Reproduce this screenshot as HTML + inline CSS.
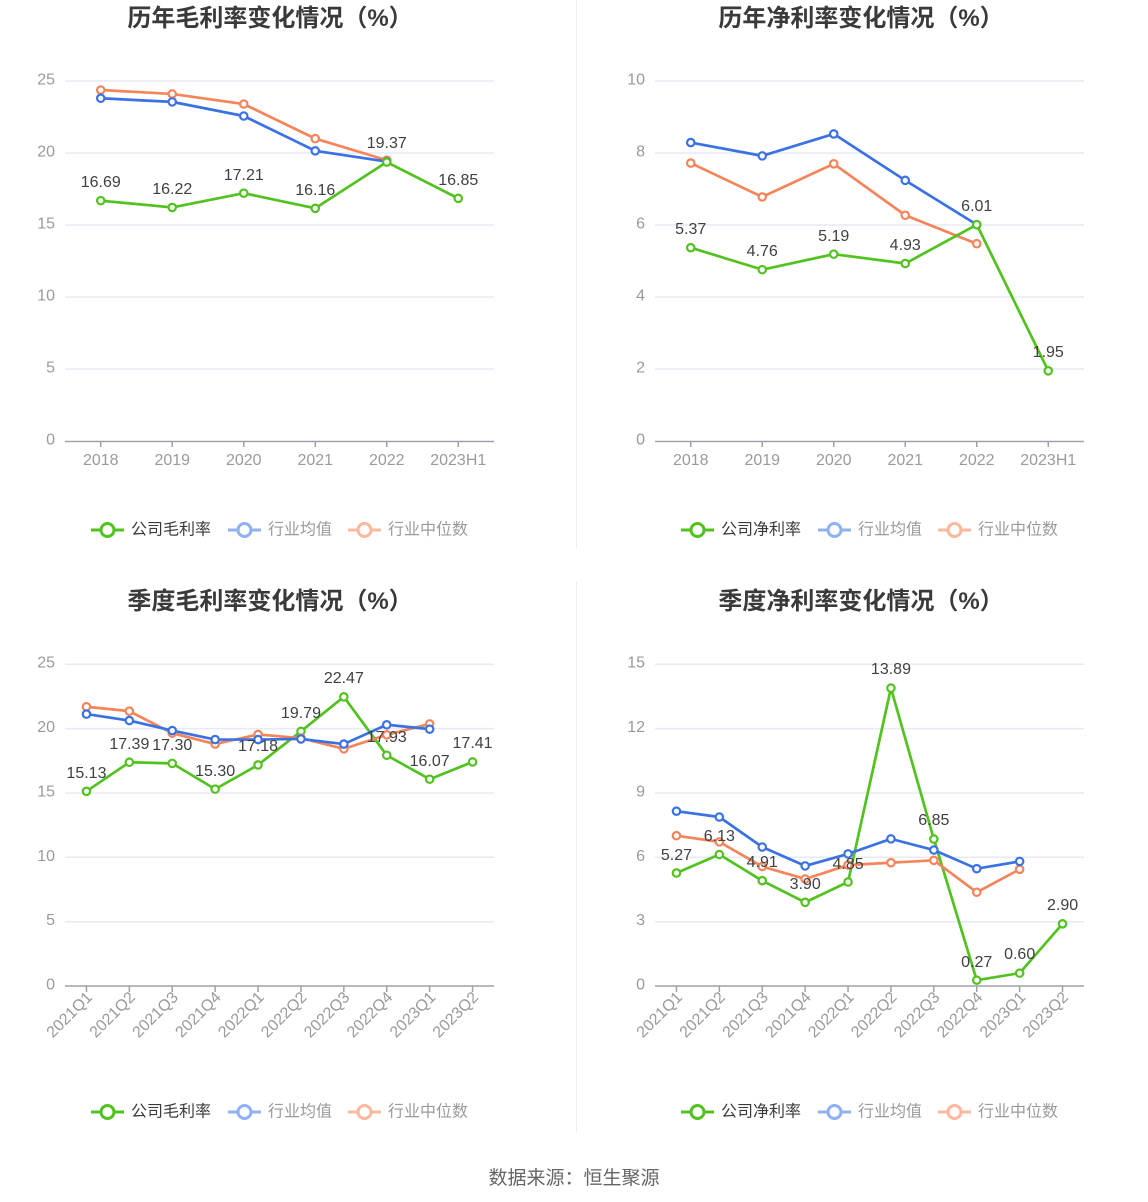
<!DOCTYPE html>
<html><head><meta charset="utf-8">
<style>
html,body{margin:0;padding:0;background:#fff;}
svg{display:block;font-family:"Liberation Sans","Noto Sans CJK SC",sans-serif;}
.t{font-size:24px;font-weight:bold;fill:#3a3a3a;text-anchor:middle;}
.yl{font-size:16px;fill:#9a9a9a;text-anchor:end;dominant-baseline:central;}
.xl{font-size:16px;fill:#9a9a9a;text-anchor:middle;}
.xr{font-size:16px;fill:#9a9a9a;text-anchor:end;dominant-baseline:central;}
.dl{font-size:16px;fill:#404040;text-anchor:middle;}
.grid{stroke:#e6eaf4;stroke-width:1.5;}
.axis{stroke:#9ea2aa;stroke-width:1.5;fill:none;}
.g{stroke:#52c21f;stroke-width:2.7;fill:none;stroke-linejoin:round;}
.b{stroke:#3a72e4;stroke-width:2.7;fill:none;stroke-linejoin:round;}
.o{stroke:#f6845a;stroke-width:2.7;fill:none;stroke-linejoin:round;}
.gm{stroke:#52c21f;stroke-width:2.2;fill:#fff;}
.bm{stroke:#3a72e4;stroke-width:2.2;fill:#fff;}
.om{stroke:#f6845a;stroke-width:2.2;fill:#fff;}
.lt{font-size:16px;dominant-baseline:central;}
</style></head>
<body>
<svg width="1148" height="1202" viewBox="0 0 1148 1202" xmlns="http://www.w3.org/2000/svg">
<!-- dividers -->
<line x1="576.5" y1="0" x2="576.5" y2="549" stroke="#eeeeee" stroke-width="1"/>
<line x1="576.5" y1="582" x2="576.5" y2="1133" stroke="#eeeeee" stroke-width="1"/>

<!-- ================= TOP LEFT ================= -->
<text class="t" x="270" y="26">历年毛利率变化情况（%）</text>
<g>
<line class="grid" x1="65" y1="81" x2="494" y2="81"/>
<line class="grid" x1="65" y1="153" x2="494" y2="153"/>
<line class="grid" x1="65" y1="225" x2="494" y2="225"/>
<line class="grid" x1="65" y1="297" x2="494" y2="297"/>
<line class="grid" x1="65" y1="369" x2="494" y2="369"/>
<line class="axis" x1="65" y1="441.5" x2="494" y2="441.5"/>
<text class="yl" x="55" y="80">25</text>
<text class="yl" x="55" y="152">20</text>
<text class="yl" x="55" y="224">15</text>
<text class="yl" x="55" y="296">10</text>
<text class="yl" x="55" y="368">5</text>
<text class="yl" x="55" y="440">0</text>
<g stroke="#9ea2aa" stroke-width="1.5">
<line x1="100.75" y1="441.5" x2="100.75" y2="447"/><line x1="172.25" y1="441.5" x2="172.25" y2="447"/>
<line x1="243.75" y1="441.5" x2="243.75" y2="447"/><line x1="315.25" y1="441.5" x2="315.25" y2="447"/>
<line x1="386.75" y1="441.5" x2="386.75" y2="447"/><line x1="458.25" y1="441.5" x2="458.25" y2="447"/>
</g>
<text class="xl" x="100.75" y="465">2018</text>
<text class="xl" x="172.25" y="465">2019</text>
<text class="xl" x="243.75" y="465">2020</text>
<text class="xl" x="315.25" y="465">2021</text>
<text class="xl" x="386.75" y="465">2022</text>
<text class="xl" x="458.25" y="465">2023H1</text>

<polyline class="o" points="100.75,90 172.25,93.96 243.75,104.04 315.25,138.6 386.75,160.2"/>
<polyline class="b" points="100.75,98.28 172.25,101.88 243.75,116 315.25,150.84 386.75,161.64"/>
<polyline class="g" points="100.75,200.66 172.25,207.43 243.75,193.18 315.25,208.3 386.75,162.07 458.25,198.36"/>
<g class="om"><circle cx="100.75" cy="90" r="3.7"/><circle cx="172.25" cy="93.96" r="3.7"/><circle cx="243.75" cy="104.04" r="3.7"/><circle cx="315.25" cy="138.6" r="3.7"/><circle cx="386.75" cy="160.2" r="3.7"/></g>
<g class="bm"><circle cx="100.75" cy="98.28" r="3.7"/><circle cx="172.25" cy="101.88" r="3.7"/><circle cx="243.75" cy="116" r="3.7"/><circle cx="315.25" cy="150.84" r="3.7"/><circle cx="386.75" cy="161.64" r="3.7"/></g>
<g class="gm"><circle cx="100.75" cy="200.66" r="3.7"/><circle cx="172.25" cy="207.43" r="3.7"/><circle cx="243.75" cy="193.18" r="3.7"/><circle cx="315.25" cy="208.3" r="3.7"/><circle cx="386.75" cy="162.07" r="3.7"/><circle cx="458.25" cy="198.36" r="3.7"/></g>
<text class="dl" x="100.75" y="187">16.69</text>
<text class="dl" x="172.25" y="194">16.22</text>
<text class="dl" x="243.75" y="180">17.21</text>
<text class="dl" x="315.25" y="195">16.16</text>
<text class="dl" x="386.75" y="148">19.37</text>
<text class="dl" x="458.25" y="185">16.85</text>
</g>

<!-- ================= TOP RIGHT ================= -->
<text class="t" x="861" y="26">历年净利率变化情况（%）</text>
<g>
<line class="grid" x1="655" y1="81" x2="1084" y2="81"/>
<line class="grid" x1="655" y1="153" x2="1084" y2="153"/>
<line class="grid" x1="655" y1="225" x2="1084" y2="225"/>
<line class="grid" x1="655" y1="297" x2="1084" y2="297"/>
<line class="grid" x1="655" y1="369" x2="1084" y2="369"/>
<line class="axis" x1="655" y1="441.5" x2="1084" y2="441.5"/>
<text class="yl" x="645" y="80">10</text>
<text class="yl" x="645" y="152">8</text>
<text class="yl" x="645" y="224">6</text>
<text class="yl" x="645" y="296">4</text>
<text class="yl" x="645" y="368">2</text>
<text class="yl" x="645" y="440">0</text>
<g stroke="#9ea2aa" stroke-width="1.5">
<line x1="690.75" y1="441.5" x2="690.75" y2="447"/><line x1="762.25" y1="441.5" x2="762.25" y2="447"/>
<line x1="833.75" y1="441.5" x2="833.75" y2="447"/><line x1="905.25" y1="441.5" x2="905.25" y2="447"/>
<line x1="976.75" y1="441.5" x2="976.75" y2="447"/><line x1="1048.25" y1="441.5" x2="1048.25" y2="447"/>
</g>
<text class="xl" x="690.75" y="465">2018</text>
<text class="xl" x="762.25" y="465">2019</text>
<text class="xl" x="833.75" y="465">2020</text>
<text class="xl" x="905.25" y="465">2021</text>
<text class="xl" x="976.75" y="465">2022</text>
<text class="xl" x="1048.25" y="465">2023H1</text>

<polyline class="o" points="690.75,163.08 762.25,196.92 833.75,163.8 905.25,215.28 976.75,243.72"/>
<polyline class="b" points="690.75,142.56 762.25,155.88 833.75,133.92 905.25,180.36 976.75,224.64"/>
<polyline class="g" points="690.75,247.68 762.25,269.64 833.75,254.16 905.25,263.52 976.75,224.64 1048.25,370.8"/>
<g class="om"><circle cx="690.75" cy="163.08" r="3.7"/><circle cx="762.25" cy="196.92" r="3.7"/><circle cx="833.75" cy="163.8" r="3.7"/><circle cx="905.25" cy="215.28" r="3.7"/><circle cx="976.75" cy="243.72" r="3.7"/></g>
<g class="bm"><circle cx="690.75" cy="142.56" r="3.7"/><circle cx="762.25" cy="155.88" r="3.7"/><circle cx="833.75" cy="133.92" r="3.7"/><circle cx="905.25" cy="180.36" r="3.7"/><circle cx="976.75" cy="224.64" r="3.7"/></g>
<g class="gm"><circle cx="690.75" cy="247.68" r="3.7"/><circle cx="762.25" cy="269.64" r="3.7"/><circle cx="833.75" cy="254.16" r="3.7"/><circle cx="905.25" cy="263.52" r="3.7"/><circle cx="976.75" cy="224.64" r="3.7"/><circle cx="1048.25" cy="370.8" r="3.7"/></g>
<text class="dl" x="690.75" y="234">5.37</text>
<text class="dl" x="762.25" y="256">4.76</text>
<text class="dl" x="833.75" y="241">5.19</text>
<text class="dl" x="905.25" y="250">4.93</text>
<text class="dl" x="976.75" y="211">6.01</text>
<text class="dl" x="1048.25" y="357">1.95</text>
</g>

<!-- ================= BOTTOM LEFT ================= -->
<text class="t" x="270" y="609">季度毛利率变化情况（%）</text>
<g>
<line class="grid" x1="65" y1="664.3" x2="494" y2="664.3"/>
<line class="grid" x1="65" y1="728.6" x2="494" y2="728.6"/>
<line class="grid" x1="65" y1="793" x2="494" y2="793"/>
<line class="grid" x1="65" y1="857.3" x2="494" y2="857.3"/>
<line class="grid" x1="65" y1="921.7" x2="494" y2="921.7"/>
<line class="axis" x1="65" y1="986" x2="494" y2="986"/>
<text class="yl" x="55" y="663">25</text>
<text class="yl" x="55" y="727.6">20</text>
<text class="yl" x="55" y="792">15</text>
<text class="yl" x="55" y="856.3">10</text>
<text class="yl" x="55" y="920.7">5</text>
<text class="yl" x="55" y="985">0</text>
<g stroke="#9ea2aa" stroke-width="1.5">
<line x1="86.45" y1="986" x2="86.45" y2="992"/><line x1="129.35" y1="986" x2="129.35" y2="992"/>
<line x1="172.25" y1="986" x2="172.25" y2="992"/><line x1="215.15" y1="986" x2="215.15" y2="992"/>
<line x1="258.05" y1="986" x2="258.05" y2="992"/><line x1="300.95" y1="986" x2="300.95" y2="992"/>
<line x1="343.85" y1="986" x2="343.85" y2="992"/><line x1="386.75" y1="986" x2="386.75" y2="992"/>
<line x1="429.65" y1="986" x2="429.65" y2="992"/><line x1="472.55" y1="986" x2="472.55" y2="992"/>
</g>
<text class="xr" transform="translate(90,995) rotate(-45)">2021Q1</text>
<text class="xr" transform="translate(132.9,995) rotate(-45)">2021Q2</text>
<text class="xr" transform="translate(175.8,995) rotate(-45)">2021Q3</text>
<text class="xr" transform="translate(218.7,995) rotate(-45)">2021Q4</text>
<text class="xr" transform="translate(261.6,995) rotate(-45)">2022Q1</text>
<text class="xr" transform="translate(304.5,995) rotate(-45)">2022Q2</text>
<text class="xr" transform="translate(347.4,995) rotate(-45)">2022Q3</text>
<text class="xr" transform="translate(390.3,995) rotate(-45)">2022Q4</text>
<text class="xr" transform="translate(433.2,995) rotate(-45)">2023Q1</text>
<text class="xr" transform="translate(476.1,995) rotate(-45)">2023Q2</text>

<polyline class="g" points="86.45,791.31 129.35,762.23 172.25,763.38 215.15,789.12 258.05,764.93 300.95,731.34 343.85,696.86 386.75,755.28 429.65,779.21 472.55,761.97"/>
<polyline class="o" points="86.45,706.76 129.35,711.14 172.25,733.14 215.15,744.08 258.05,734.43 300.95,738.16 343.85,748.84 386.75,734.82 429.65,723.88"/>
<polyline class="b" points="86.45,714.1 129.35,720.53 172.25,730.57 215.15,739.58 258.05,739.58 300.95,738.93 343.85,744.08 386.75,724.78 429.65,729.15"/>
<g class="gm"><circle cx="86.45" cy="791.31" r="3.7"/><circle cx="129.35" cy="762.23" r="3.7"/><circle cx="172.25" cy="763.38" r="3.7"/><circle cx="215.15" cy="789.12" r="3.7"/><circle cx="258.05" cy="764.93" r="3.7"/><circle cx="300.95" cy="731.34" r="3.7"/><circle cx="343.85" cy="696.86" r="3.7"/><circle cx="386.75" cy="755.28" r="3.7"/><circle cx="429.65" cy="779.21" r="3.7"/><circle cx="472.55" cy="761.97" r="3.7"/></g>
<g class="om"><circle cx="86.45" cy="706.76" r="3.7"/><circle cx="129.35" cy="711.14" r="3.7"/><circle cx="172.25" cy="733.14" r="3.7"/><circle cx="215.15" cy="744.08" r="3.7"/><circle cx="258.05" cy="734.43" r="3.7"/><circle cx="300.95" cy="738.16" r="3.7"/><circle cx="343.85" cy="748.84" r="3.7"/><circle cx="386.75" cy="734.82" r="3.7"/><circle cx="429.65" cy="723.88" r="3.7"/></g>
<g class="bm"><circle cx="86.45" cy="714.1" r="3.7"/><circle cx="129.35" cy="720.53" r="3.7"/><circle cx="172.25" cy="730.57" r="3.7"/><circle cx="215.15" cy="739.58" r="3.7"/><circle cx="258.05" cy="739.58" r="3.7"/><circle cx="300.95" cy="738.93" r="3.7"/><circle cx="343.85" cy="744.08" r="3.7"/><circle cx="386.75" cy="724.78" r="3.7"/><circle cx="429.65" cy="729.15" r="3.7"/></g>
<text class="dl" x="86.45" y="778">15.13</text>
<text class="dl" x="129.35" y="749">17.39</text>
<text class="dl" x="172.25" y="750">17.30</text>
<text class="dl" x="215.15" y="776">15.30</text>
<text class="dl" x="258.05" y="751">17.18</text>
<text class="dl" x="300.95" y="718">19.79</text>
<text class="dl" x="343.85" y="683">22.47</text>
<text class="dl" x="386.75" y="742">17.93</text>
<text class="dl" x="429.65" y="766">16.07</text>
<text class="dl" x="472.55" y="748">17.41</text>
</g>

<!-- ================= BOTTOM RIGHT ================= -->
<text class="t" x="861" y="609">季度净利率变化情况（%）</text>
<g>
<line class="grid" x1="655" y1="664.3" x2="1084" y2="664.3"/>
<line class="grid" x1="655" y1="728.6" x2="1084" y2="728.6"/>
<line class="grid" x1="655" y1="793" x2="1084" y2="793"/>
<line class="grid" x1="655" y1="857.3" x2="1084" y2="857.3"/>
<line class="grid" x1="655" y1="921.7" x2="1084" y2="921.7"/>
<line class="axis" x1="655" y1="986" x2="1084" y2="986"/>
<text class="yl" x="645" y="663">15</text>
<text class="yl" x="645" y="727.6">12</text>
<text class="yl" x="645" y="792">9</text>
<text class="yl" x="645" y="856.3">6</text>
<text class="yl" x="645" y="920.7">3</text>
<text class="yl" x="645" y="985">0</text>
<g stroke="#9ea2aa" stroke-width="1.5">
<line x1="676.45" y1="986" x2="676.45" y2="992"/><line x1="719.35" y1="986" x2="719.35" y2="992"/>
<line x1="762.25" y1="986" x2="762.25" y2="992"/><line x1="805.15" y1="986" x2="805.15" y2="992"/>
<line x1="848.05" y1="986" x2="848.05" y2="992"/><line x1="890.95" y1="986" x2="890.95" y2="992"/>
<line x1="933.85" y1="986" x2="933.85" y2="992"/><line x1="976.75" y1="986" x2="976.75" y2="992"/>
<line x1="1019.65" y1="986" x2="1019.65" y2="992"/><line x1="1062.55" y1="986" x2="1062.55" y2="992"/>
</g>
<text class="xr" transform="translate(680,995) rotate(-45)">2021Q1</text>
<text class="xr" transform="translate(722.9,995) rotate(-45)">2021Q2</text>
<text class="xr" transform="translate(765.8,995) rotate(-45)">2021Q3</text>
<text class="xr" transform="translate(808.7,995) rotate(-45)">2021Q4</text>
<text class="xr" transform="translate(851.6,995) rotate(-45)">2022Q1</text>
<text class="xr" transform="translate(894.5,995) rotate(-45)">2022Q2</text>
<text class="xr" transform="translate(937.4,995) rotate(-45)">2022Q3</text>
<text class="xr" transform="translate(980.3,995) rotate(-45)">2022Q4</text>
<text class="xr" transform="translate(1023.2,995) rotate(-45)">2023Q1</text>
<text class="xr" transform="translate(1066.1,995) rotate(-45)">2023Q2</text>

<polyline class="g" points="676.45,872.97 719.35,854.53 762.25,880.7 805.15,902.36 848.05,881.98 890.95,688.1 933.85,839.09 976.75,980.21 1019.65,973.13 1062.55,923.8"/>
<polyline class="o" points="676.45,835.66 719.35,841.88 762.25,866.54 805.15,878.98 848.05,865.04 890.95,862.68 933.85,860.32 976.75,892.28 1019.65,869.33"/>
<polyline class="b" points="676.45,811.21 719.35,817 762.25,847.02 805.15,865.9 848.05,853.89 890.95,838.87 933.85,850.03 976.75,868.69 1019.65,861.39"/>
<g class="gm"><circle cx="676.45" cy="872.97" r="3.7"/><circle cx="719.35" cy="854.53" r="3.7"/><circle cx="762.25" cy="880.7" r="3.7"/><circle cx="805.15" cy="902.36" r="3.7"/><circle cx="848.05" cy="881.98" r="3.7"/><circle cx="890.95" cy="688.1" r="3.7"/><circle cx="933.85" cy="839.09" r="3.7"/><circle cx="976.75" cy="980.21" r="3.7"/><circle cx="1019.65" cy="973.13" r="3.7"/><circle cx="1062.55" cy="923.8" r="3.7"/></g>
<g class="om"><circle cx="676.45" cy="835.66" r="3.7"/><circle cx="719.35" cy="841.88" r="3.7"/><circle cx="762.25" cy="866.54" r="3.7"/><circle cx="805.15" cy="878.98" r="3.7"/><circle cx="848.05" cy="865.04" r="3.7"/><circle cx="890.95" cy="862.68" r="3.7"/><circle cx="933.85" cy="860.32" r="3.7"/><circle cx="976.75" cy="892.28" r="3.7"/><circle cx="1019.65" cy="869.33" r="3.7"/></g>
<g class="bm"><circle cx="676.45" cy="811.21" r="3.7"/><circle cx="719.35" cy="817" r="3.7"/><circle cx="762.25" cy="847.02" r="3.7"/><circle cx="805.15" cy="865.9" r="3.7"/><circle cx="848.05" cy="853.89" r="3.7"/><circle cx="890.95" cy="838.87" r="3.7"/><circle cx="933.85" cy="850.03" r="3.7"/><circle cx="976.75" cy="868.69" r="3.7"/><circle cx="1019.65" cy="861.39" r="3.7"/></g>
<text class="dl" x="676.45" y="860">5.27</text>
<text class="dl" x="719.35" y="841">6.13</text>
<text class="dl" x="762.25" y="867">4.91</text>
<text class="dl" x="805.15" y="889">3.90</text>
<text class="dl" x="848.05" y="869">4.85</text>
<text class="dl" x="890.95" y="674">13.89</text>
<text class="dl" x="933.85" y="825">6.85</text>
<text class="dl" x="976.75" y="967">0.27</text>
<text class="dl" x="1019.65" y="959">0.60</text>
<text class="dl" x="1062.55" y="910">2.90</text>
</g>

<!-- ================= LEGENDS ================= -->
<g>
<line x1="91" y1="530" x2="124" y2="530" stroke="#52c21f" stroke-width="3"/>
<circle cx="107.5" cy="530" r="6.5" fill="#fff" stroke="#52c21f" stroke-width="3"/>
<text class="lt" x="131" y="530" fill="#3a3a3a">公司毛利率</text>
<line x1="228" y1="530" x2="261" y2="530" stroke="#8fb1f2" stroke-width="3"/>
<circle cx="244.5" cy="530" r="6.5" fill="#fff" stroke="#8fb1f2" stroke-width="3"/>
<text class="lt" x="268" y="530" fill="#9a9a9a">行业均值</text>
<line x1="348" y1="530" x2="381" y2="530" stroke="#fab89c" stroke-width="3"/>
<circle cx="364.5" cy="530" r="6.5" fill="#fff" stroke="#fab89c" stroke-width="3"/>
<text class="lt" x="388" y="530" fill="#9a9a9a">行业中位数</text>
</g>
<g>
<line x1="681" y1="530" x2="714" y2="530" stroke="#52c21f" stroke-width="3"/>
<circle cx="697.5" cy="530" r="6.5" fill="#fff" stroke="#52c21f" stroke-width="3"/>
<text class="lt" x="721" y="530" fill="#3a3a3a">公司净利率</text>
<line x1="818" y1="530" x2="851" y2="530" stroke="#8fb1f2" stroke-width="3"/>
<circle cx="834.5" cy="530" r="6.5" fill="#fff" stroke="#8fb1f2" stroke-width="3"/>
<text class="lt" x="858" y="530" fill="#9a9a9a">行业均值</text>
<line x1="938" y1="530" x2="971" y2="530" stroke="#fab89c" stroke-width="3"/>
<circle cx="954.5" cy="530" r="6.5" fill="#fff" stroke="#fab89c" stroke-width="3"/>
<text class="lt" x="978" y="530" fill="#9a9a9a">行业中位数</text>
</g>
<g>
<line x1="91" y1="1112" x2="124" y2="1112" stroke="#52c21f" stroke-width="3"/>
<circle cx="107.5" cy="1112" r="6.5" fill="#fff" stroke="#52c21f" stroke-width="3"/>
<text class="lt" x="131" y="1112" fill="#3a3a3a">公司毛利率</text>
<line x1="228" y1="1112" x2="261" y2="1112" stroke="#8fb1f2" stroke-width="3"/>
<circle cx="244.5" cy="1112" r="6.5" fill="#fff" stroke="#8fb1f2" stroke-width="3"/>
<text class="lt" x="268" y="1112" fill="#9a9a9a">行业均值</text>
<line x1="348" y1="1112" x2="381" y2="1112" stroke="#fab89c" stroke-width="3"/>
<circle cx="364.5" cy="1112" r="6.5" fill="#fff" stroke="#fab89c" stroke-width="3"/>
<text class="lt" x="388" y="1112" fill="#9a9a9a">行业中位数</text>
</g>
<g>
<line x1="681" y1="1112" x2="714" y2="1112" stroke="#52c21f" stroke-width="3"/>
<circle cx="697.5" cy="1112" r="6.5" fill="#fff" stroke="#52c21f" stroke-width="3"/>
<text class="lt" x="721" y="1112" fill="#3a3a3a">公司净利率</text>
<line x1="818" y1="1112" x2="851" y2="1112" stroke="#8fb1f2" stroke-width="3"/>
<circle cx="834.5" cy="1112" r="6.5" fill="#fff" stroke="#8fb1f2" stroke-width="3"/>
<text class="lt" x="858" y="1112" fill="#9a9a9a">行业均值</text>
<line x1="938" y1="1112" x2="971" y2="1112" stroke="#fab89c" stroke-width="3"/>
<circle cx="954.5" cy="1112" r="6.5" fill="#fff" stroke="#fab89c" stroke-width="3"/>
<text class="lt" x="978" y="1112" fill="#9a9a9a">行业中位数</text>
</g>

<!-- footer -->
<text x="574" y="1184" font-size="19" fill="#666" text-anchor="middle">数据来源：恒生聚源</text>
</svg>
</body></html>
